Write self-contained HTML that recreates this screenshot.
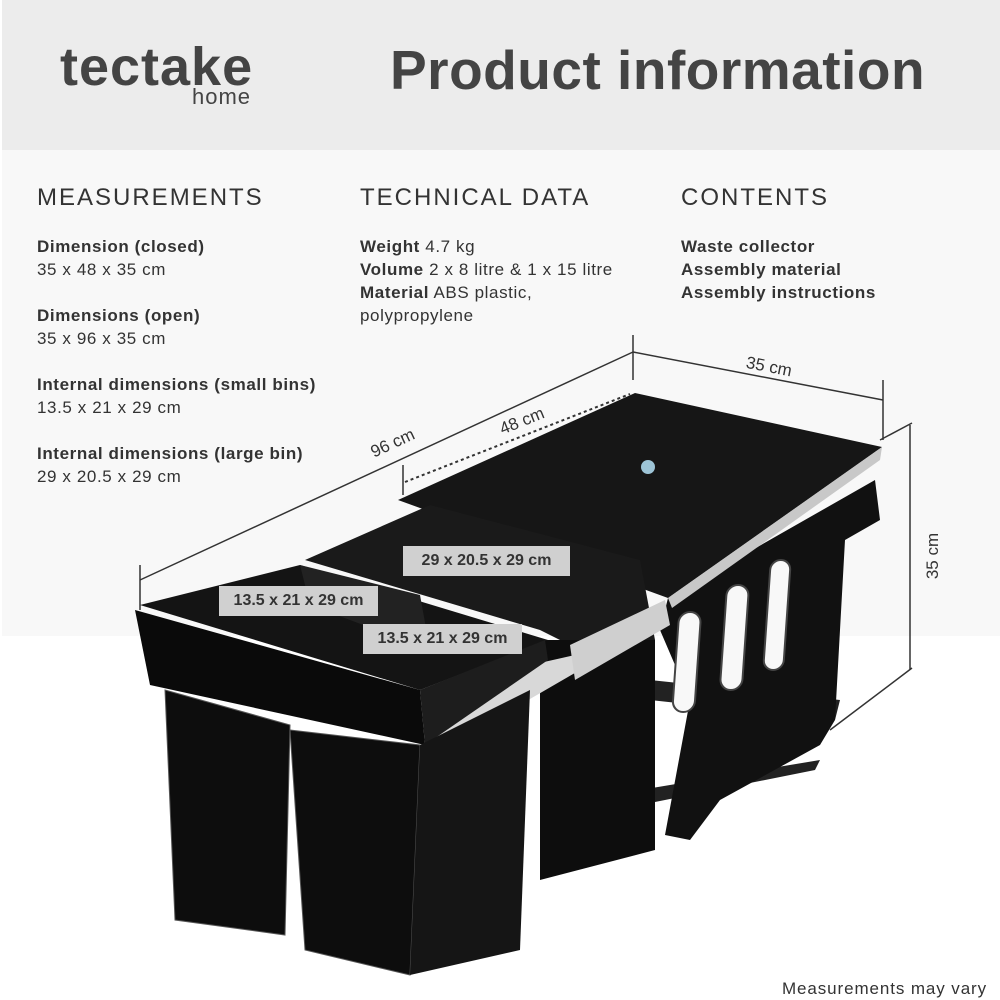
<!DOCTYPE html>
<html><head><meta charset="utf-8"><style>
body{margin:0;width:1000px;height:1000px;position:relative;background:#fff;font-family:"Liberation Sans",sans-serif;color:#333;overflow:hidden}
.hdr{position:absolute;left:2px;top:0;width:998px;height:150px;background:#ececec}
.band{position:absolute;left:2px;top:150px;width:998px;height:486px;background:#f8f8f8}
.t{position:absolute;white-space:nowrap}
h2{position:absolute;margin:0;font-weight:normal;font-size:24px;letter-spacing:2px;color:#333;top:184px}
.col{position:absolute;top:235px;font-size:17px;line-height:23px;color:#333;letter-spacing:0.6px}
.gap{height:23px}
</style></head><body>
<div class="hdr"></div><div class="band"></div>
<div class="t" style="left:60px;top:36px;font-size:54px;font-weight:bold;color:#444;letter-spacing:1px">tectake</div>
<div class="t" style="left:192px;top:84px;font-size:22px;color:#444;letter-spacing:1px">home</div>
<div class="t" style="left:390px;top:38px;font-size:55px;font-weight:bold;color:#444;letter-spacing:0.5px">Product information</div>
<h2 style="left:37px">MEASUREMENTS</h2>
<h2 style="left:360px">TECHNICAL DATA</h2>
<h2 style="left:681px">CONTENTS</h2>
<div class="col" style="left:37px"><b>Dimension (closed)</b><br>35 x 48 x 35 cm<div class="gap"></div><b>Dimensions (open)</b><br>35 x 96 x 35 cm<div class="gap"></div><b>Internal dimensions (small bins)</b><br>13.5 x 21 x 29 cm<div class="gap"></div><b>Internal dimensions (large bin)</b><br>29 x 20.5 x 29 cm</div>
<div class="col" style="left:360px"><b>Weight</b> 4.7 kg<br><b>Volume</b> 2 x 8 litre &amp; 1 x 15 litre<br><b>Material</b> ABS plastic,<br>polypropylene</div>
<div class="col" style="left:681px"><b>Waste collector<br>Assembly material<br>Assembly instructions</b></div>
<svg style="position:absolute;left:0;top:0" width="1000" height="1000">
<g stroke="#333" stroke-width="1.5" fill="none">
<line x1="140" y1="580" x2="633" y2="352"/><line x1="140" y1="565" x2="140" y2="610"/><line x1="633" y1="335" x2="633" y2="380"/>
<line x1="405" y1="482" x2="630" y2="394" stroke-dasharray="3,3" stroke-width="2"/><line x1="403" y1="465" x2="403" y2="495"/>
<line x1="633" y1="352" x2="883" y2="400"/><line x1="883" y1="380" x2="883" y2="440"/>
<line x1="910" y1="425" x2="910" y2="670"/><line x1="880" y1="440" x2="912" y2="423"/><line x1="830" y1="730" x2="912" y2="668"/>
</g>
<text x="395" y="448" font-size="17" fill="#333" transform="rotate(-25 395 448)" text-anchor="middle">96 cm</text>
<text x="524" y="426" font-size="17" fill="#333" transform="rotate(-22 524 426)" text-anchor="middle">48 cm</text>
<text x="768" y="372" font-size="17" fill="#333" transform="rotate(11 768 372)" text-anchor="middle">35 cm</text>
<text x="938" y="556" font-size="17" fill="#333" transform="rotate(-90 938 556)" text-anchor="middle">35 cm</text>
<polygon points="650,680 840,700 835,720 650,700" fill="#222"/>
<polygon points="640,790 820,760 815,770 640,805" fill="#222"/>
<polygon points="668,598 875,480 880,520 845,540 835,720 820,745 720,800 690,840 665,835 690,700 660,630" fill="#111"/>
<g fill="#f8f8f8" stroke="#444" stroke-width="2">
<rect x="722" y="612" width="22" height="100" rx="11" transform="skewX(-4)"/>
<rect x="768" y="585" width="22" height="105" rx="11" transform="skewX(-4)"/>
<rect x="810" y="560" width="20" height="110" rx="10" transform="skewX(-4)"/>
</g>
<polygon points="398,500 635,393 882,447 668,598" fill="#161616"/>
<polygon points="668,598 882,447 880,460 672,608" fill="#c8c8c8"/>
<circle cx="648" cy="467" r="7" fill="#9dc4d6"/>
<polygon points="305,560 430,505 640,560 655,640 560,640 540,630" fill="#1a1a1a"/>
<polygon points="540,640 655,640 655,850 540,880" fill="#0d0d0d"/>
<polygon points="420,690 575,655 580,670 425,760" fill="#d8d8d8"/>
<polygon points="570,645 665,600 670,625 575,680" fill="#cfcfcf"/>
<polygon points="140,605 300,565 548,640 420,690" fill="#141414"/>
<polygon points="300,565 420,595 430,650 310,605" fill="#222"/>
<polygon points="135,610 420,690 425,745 150,685" fill="#0a0a0a"/>
<polygon points="420,690 545,640 548,660 425,745" fill="#1d1d1d"/>
<polygon points="165,690 290,725 285,935 175,920" fill="#0d0d0d" stroke="#555" stroke-width="1"/>
<polygon points="290,730 420,745 410,975 305,950" fill="#0d0d0d" stroke="#555" stroke-width="1"/>
<polygon points="420,745 530,690 520,950 410,975" fill="#151515"/>
</svg>
<div class="t" style="left:403px;top:546px;width:167px;height:30px;background:#d0d0d0;font-size:16px;font-weight:bold;line-height:30px;text-align:center;color:#333">29 x 20.5 x 29 cm</div>
<div class="t" style="left:219px;top:586px;width:159px;height:30px;background:#d0d0d0;font-size:16px;font-weight:bold;line-height:30px;text-align:center;color:#333">13.5 x 21 x 29 cm</div>
<div class="t" style="left:363px;top:624px;width:159px;height:30px;background:#d0d0d0;font-size:16px;font-weight:bold;line-height:30px;text-align:center;color:#333">13.5 x 21 x 29 cm</div>
<div class="t" style="left:782px;top:979px;font-size:17px;color:#333;letter-spacing:0.9px">Measurements may vary</div>
</body></html>
